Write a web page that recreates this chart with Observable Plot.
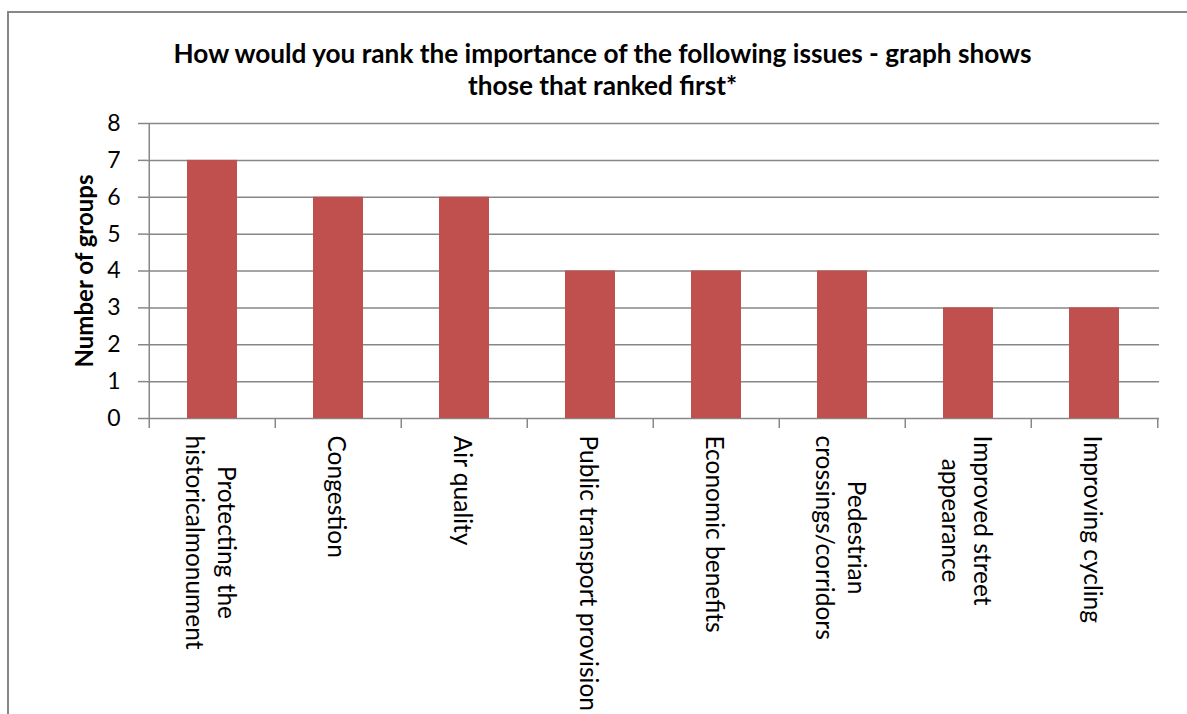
<!DOCTYPE html>
<html><head><meta charset="utf-8">
<script src="https://cdn.jsdelivr.net/npm/d3@7"></script>
<script src="https://cdn.jsdelivr.net/npm/@observablehq/plot@0.6"></script>
<style>
html,body{margin:0;padding:0;background:#fff;overflow:hidden;}
#wrap{position:relative;width:1187px;height:714px;overflow:hidden;}
#border{position:absolute;left:7px;top:11px;width:1300px;height:900px;border:2px solid #878787;}
#title{position:absolute;left:0;top:37px;width:1205px;text-align:center;font-family:Lato,sans-serif;font-weight:bold;font-size:26.2px;line-height:32px;color:#000;}
#chart{position:absolute;left:0;top:0;}
</style></head><body>
<div id="wrap"><div id="border"></div><div id="chart"></div><div id="title"></div></div>
<script>
const titleLines = ["How would you rank the importance of the following issues - graph shows", "those that ranked first*"];
const yLabel = "Number of groups";
const categories = [
  "Protecting the\nhistoricalmonument",
  "Congestion",
  "Air quality",
  "Public transport provision",
  "Economic benefits",
  "Pedestrian\ncrossings/corridors",
  "Improved street\nappearance",
  "Improving cycling"
];
const values = [7, 6, 6, 4, 4, 4, 3, 3];
const yTicks = [0, 1, 2, 3, 4, 5, 6, 7, 8];

document.getElementById("title").innerHTML = titleLines.join("<br>");

const W = 1187, H = 714, ml = 147, mr = 28, mt = 123, mb = 296;
const step = (W - ml - mr) / categories.length;
const labelSize = 24.5;
const gray = "#878787";
const data = categories.map((c, i) => ({cat: c, value: values[i]}));

const ctx = document.createElement("canvas").getContext("2d");
ctx.font = `${labelSize}px Lato`;
const labelMarks = data.map(d => {
  const w = Math.max(...d.cat.split("\n").map(l => ctx.measureText(l).width));
  return Plot.text([d], {
    x: "cat", text: "cat", frameAnchor: "bottom", rotate: 90,
    textAnchor: "middle", lineAnchor: "middle", lineHeight: 1.3,
    dy: 17 + w / 2, fontSize: labelSize, fontFamily: "Lato", fill: "#000"
  });
});

const chart = Plot.plot({
  width: W, height: H,
  marginLeft: ml, marginRight: mr, marginTop: mt, marginBottom: mb,
  style: {fontFamily: "Lato, sans-serif", color: "#000", background: "transparent", overflow: "visible"},
  x: {domain: categories, paddingInner: 0.605, paddingOuter: 0.3025, axis: null},
  y: {domain: [0, 8], axis: null},
  marks: [
    Plot.gridY(yTicks, {stroke: gray, strokeOpacity: 1, strokeWidth: 1.5}),
    Plot.ruleX([categories[0]], {dx: -step / 2, stroke: gray, strokeWidth: 1.5}),
    Plot.barY(data, {x: "cat", y: "value", fill: "#C0504D"}),
    Plot.axisY({ticks: yTicks, tickSize: 9, tickPadding: 18, fontSize: 23, stroke: gray, strokeWidth: 1.5, fill: "#000", label: null}),
    Plot.axisX({ticks: categories, tickSize: 10, tickFormat: () => "", dx: -step / 2, stroke: gray, strokeWidth: 1.5, label: null}),
    Plot.axisX({ticks: [categories[categories.length - 1]], tickSize: 10, tickFormat: () => "", dx: step / 2, stroke: gray, strokeWidth: 1.5, label: null}),
    ...labelMarks,
    Plot.text([yLabel], {text: d => d, frameAnchor: "left", textAnchor: "middle", rotate: -90, dx: -62, fontSize: 24, fontWeight: "bold", fontFamily: "Lato", fill: "#000"})
  ]
});
document.getElementById("chart").appendChild(chart);
</script>
</body></html>
